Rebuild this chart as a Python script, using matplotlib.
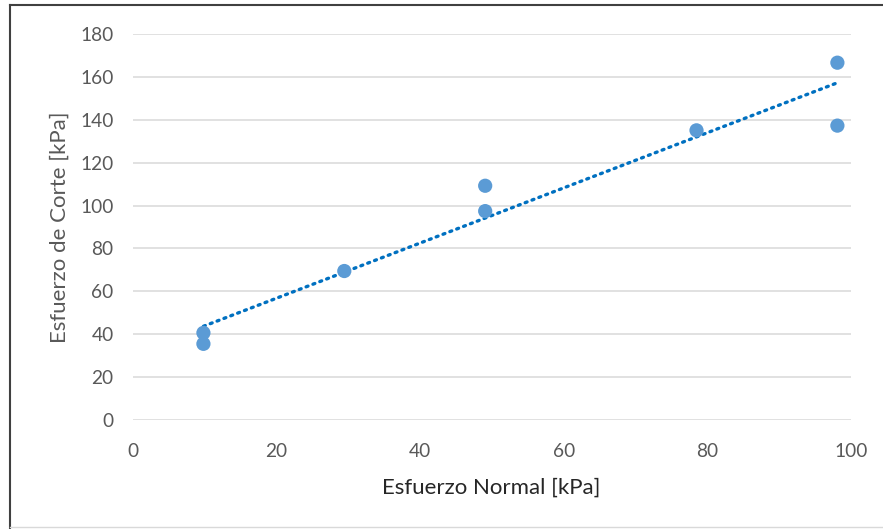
import numpy as np
from matplotlib import pyplot as plt
from matplotlib.lines import Line2D

plt.rcParams['font.family'] = ['Lato', 'DejaVu Sans']

# datos del ensayo de corte directo
normal = [9.81, 9.81, 29.43, 49.05, 49.05, 78.48, 98.1, 98.1]
corte = [40.7, 35.6, 69.5, 109.2, 97.4, 135.0, 166.5, 137.2]
xticks = [0, 20, 40, 60, 80, 100]
yticks = [0, 20, 40, 60, 80, 100, 120, 140, 160, 180]

fig = plt.figure(figsize=(8.83, 5.29), dpi=100)
ax = fig.add_axes([0.1506, 0.2055, 0.8132, 0.7308])

# linea de tendencia lineal
m, b = np.polyfit(normal, corte, 1)
xt = np.array([min(normal), max(normal)])
ax.plot(xt, m * xt + b, linestyle=(0, (0.6, 1.6)), color='#0070C0',
        linewidth=2.4, dash_capstyle='round', zorder=2)

ax.scatter(normal, corte, s=105, color='#5B9BD5', edgecolors='none', zorder=3)

ax.set_xlim(0, 100)
ax.set_ylim(0, 180)
ax.set_xticks(xticks)
ax.set_yticks(yticks)
ax.grid(axis='y', color='#D9D9D9', linewidth=1.1)
ax.set_axisbelow(True)
for s in ax.spines.values():
    s.set_visible(False)
ax.tick_params(length=0, labelsize=13.8, labelcolor='#595959')
ax.tick_params(axis='y', pad=14)
ax.tick_params(axis='x', pad=16)

fig.text(0.556, 0.079, 'Esfuerzo Normal [kPa]', ha='center', va='center',
         fontsize=16, color='#262626')
fig.text(0.068, 0.571, 'Esfuerzo de Corte [kPa]', ha='center', va='center',
         fontsize=16, color='#595959', rotation=90)

# marco del grafico
fig.add_artist(Line2D([0.0115, 0.0115], [0.0, 0.99], color='#404040', linewidth=1.5))
fig.add_artist(Line2D([0.0115, 1.0], [0.99, 0.99], color='#404040', linewidth=1.5))
fig.add_artist(Line2D([0.0115, 1.0], [0.003, 0.003], color='#D9D9D9', linewidth=1))

fig.savefig('out.png', dpi=100)
